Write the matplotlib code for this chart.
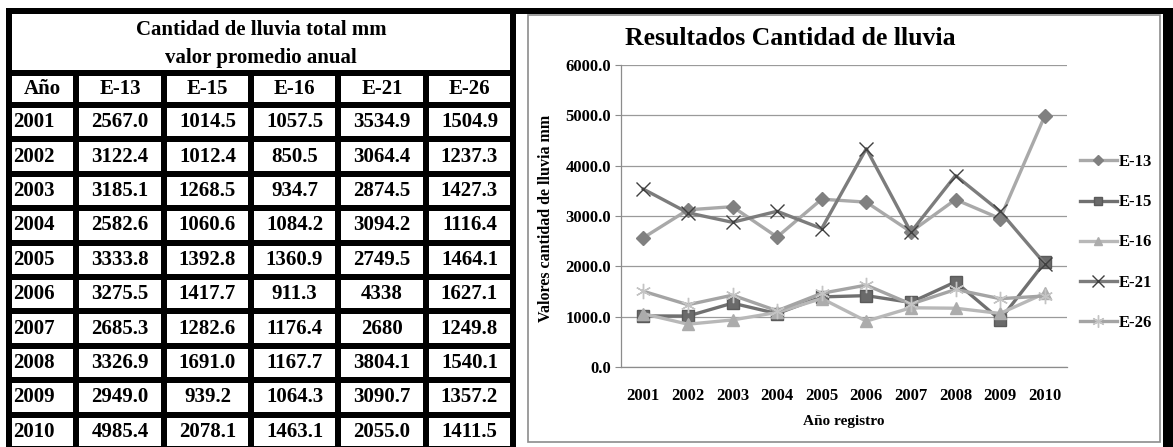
import numpy as np
import matplotlib
matplotlib.use("Agg")
import matplotlib.pyplot as plt
from matplotlib.patches import Rectangle
from matplotlib.transforms import Affine2D

# ---- data -------------------------------------------------------------
years = [2001, 2002, 2003, 2004, 2005, 2006, 2007, 2008, 2009, 2010]
stations = ["E-13", "E-15", "E-16", "E-21", "E-26"]
e13 = [2567.0, 3122.4, 3185.1, 2582.6, 3333.8, 3275.5, 2685.3, 3326.9, 2949.0, 4985.4]
e15 = [1014.5, 1012.4, 1268.5, 1060.6, 1392.8, 1417.7, 1282.6, 1691.0, 939.2, 2078.1]
e16 = [1057.5, 850.5, 934.7, 1084.2, 1360.9, 911.3, 1176.4, 1167.7, 1064.3, 1463.1]
e21 = [3534.9, 3064.4, 2874.5, 3094.2, 2749.5, 4338, 2680, 3804.1, 3090.7, 2055.0]
e26 = [1504.9, 1237.3, 1427.3, 1116.4, 1464.1, 1627.1, 1249.8, 1540.1, 1357.2, 1411.5]
series = [e13, e15, e16, e21, e26]
y_ticks = [0, 1000, 2000, 3000, 4000, 5000, 6000]

table_title = "Cantidad de lluvia total mm\nvalor promedio anual"
year_header = "Año"
chart_title = "Resultados Cantidad de lluvia"
x_label = "Año registro"
y_label = "Valores cantidad de lluvia mm"

# ---- styles -----------------------------------------------------------
SERIF = ["Liberation Serif", "DejaVu Serif"]
line_styles = [
    dict(color="#a9a9a9", marker="D", ms=7, mfc="#808080", mec="#808080"),
    dict(color="#707070", marker="s", ms=8, mfc="#6a6a6a", mec="#5a5a5a"),
    dict(color="#b8b8b8", marker="^", ms=8, mfc="#acacac", mec="#acacac"),
    dict(color="#7c7c7c", marker="x", ms=10, mfc="none", mec="#404040", mew=1.0),
    dict(color="#a4a4a4", marker=(6, 2, 0), ms=11, mfc="none", mec="#c4c4c4", mew=1.0),
]

W, H = 1173, 447
fig = plt.figure(figsize=(W / 100, H / 100), dpi=100)
fig.patch.set_facecolor("white")
# pixel coordinates measured from the top-left corner
px = Affine2D().scale(1 / W, -1 / H).translate(0, 1) + fig.transFigure


def block(x0, y0, x1, y1, color="black"):
    fig.add_artist(Rectangle((x0, y0), x1 - x0, y1 - y0, transform=px,
                             facecolor=color, edgecolor=color, lw=0, zorder=5))


def label(x, y, s, size=15, ha="center", **kw):
    fig.text(x, y, s, transform=px, ha=ha, va="center", fontsize=size,
             fontweight="bold", family=SERIF, zorder=6, **kw)


# ---- table ------------------------------------------------------------
col_edges = [6, 73, 161, 248, 335, 423, 510]
bw = 6
row_top = 102
pitch = 34.4

# outer frame of the whole sheet
block(6, 8, W, 14)
block(6, 8, 12, H + 5)
block(510, 8, 516, H + 5)
block(1163, 8, W, H + 5)
# title cell and header row separators
block(6, 70, 516, 76)
for k in range(len(years) + 1):
    yb = row_top + k * pitch
    block(6, yb, 516, yb + bw)
for xe in col_edges[1:-1]:
    block(xe, 76, xe + bw, H + 5)

label(261, 44, table_title, linespacing=1.5)
centers = [(col_edges[i] + bw + col_edges[i + 1]) / 2 for i in range(6)]
label(centers[0], 89, year_header)
for i, st in enumerate(stations):
    label(centers[i + 1], 89, st)


def fmt(v):
    return f"{v:.1f}" if isinstance(v, float) else str(v)


for k, yr in enumerate(years):
    yc = row_top + k * pitch + bw + (pitch - bw) / 2
    label(13, yc, str(yr), ha="left")
    for i, vals in enumerate(series):
        label(centers[i + 1], yc, fmt(vals[k]))

# ---- chart ------------------------------------------------------------
fig.add_artist(Rectangle((528, 15), 1160 - 528, 442 - 15, transform=px,
                         facecolor="none", edgecolor="#8c8c8c", lw=1.2, zorder=1))

ax_l, ax_r, ax_t, ax_b = 621, 1067, 65, 367
ax = fig.add_axes([ax_l / W, 1 - ax_b / H, (ax_r - ax_l) / W, (ax_b - ax_t) / H])
ax.set_facecolor("none")
x = np.arange(len(years))
handles = []
for name, vals, st in zip(stations, series, line_styles):
    h, = ax.plot(x, vals, lw=2.4, label=name, clip_on=False, **st)
    handles.append(h)

ax.set_xlim(-0.5, len(years) - 0.5)
ax.set_ylim(y_ticks[0], y_ticks[-1])
ax.set_yticks(y_ticks, [f"{v:.1f}" for v in y_ticks])
ax.set_xticks(x, [str(y) for y in years])
ax.yaxis.grid(True, color="#9a9a9a", lw=0.9)
ax.set_axisbelow(True)
for side in ("top", "right"):
    ax.spines[side].set_visible(False)
for side in ("left", "bottom"):
    ax.spines[side].set_color("#8c8c8c")
    ax.spines[side].set_linewidth(0.9)
ax.tick_params(axis="y", length=4, color="#8c8c8c", pad=3)
ax.tick_params(axis="x", length=0, pad=15)
for t in ax.get_yticklabels():
    t.set_fontfamily(SERIF)
    t.set_fontweight("bold")
    t.set_fontsize(12)
for t in ax.get_xticklabels():
    t.set_fontfamily(SERIF)
    t.set_fontweight("bold")
    t.set_fontsize(12)

ax.set_xlabel(x_label, family=SERIF, fontweight="bold", fontsize=11, labelpad=8)
fig.text(546, 218, y_label, transform=px, rotation=90, ha="center", va="center",
         fontsize=11.5, fontweight="bold", family=SERIF)
fig.text(790, 45, chart_title, transform=px, ha="center", va="baseline",
         fontsize=18.5, fontweight="bold", family=SERIF)

leg = fig.legend(handles=handles, loc="center left",
                 bbox_to_anchor=(1080 / W, 1 - 242.5 / H), frameon=False,
                 borderpad=0, borderaxespad=0, handlelength=2.2,
                 handletextpad=0.15, labelspacing=1.45,
                 prop=dict(family=SERIF, weight="bold", size=12))
for lh in leg.legend_handles:
    lh.set_markersize(lh.get_markersize() * 0.8)

fig.savefig("out.png", dpi=100, facecolor="white")
